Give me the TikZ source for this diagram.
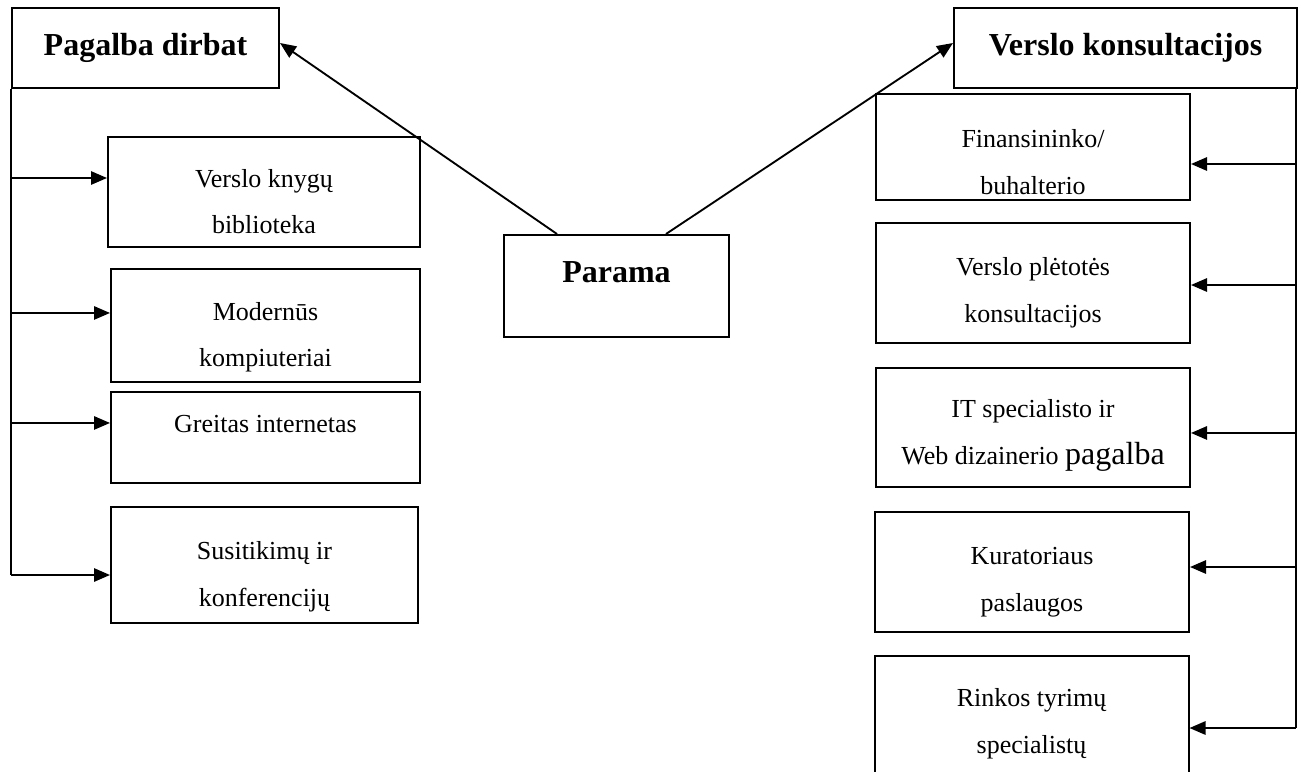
\documentclass[tikz,border=0pt]{standalone}
\usepackage{fontspec}
\setmainfont{Liberation Serif}
\usetikzlibrary{arrows.meta}
\newcommand\lift[1][28pt]{\rule{0pt}{#1}}

\begin{document}
\begin{tikzpicture}[x=0.75pt,y=-0.75pt,
    frame/.style={draw, line width=1.5pt, align=center, inner sep=0pt},
    box/.style={frame, font=\fontsize{19.5}{35}\selectfont},
    head/.style={frame, minimum height=60pt, font=\fontsize{24}{28}\selectfont\bfseries},
    lbox/.style={box, minimum width=231.75pt},
    rbox/.style={box, minimum width=235.5pt},
    link/.style={line width=1.4pt},
    arr/.style={link, -{Triangle[length=12pt,width=10pt]}}]

    \useasboundingbox (0,0) rectangle (1301,771);
    \clip (0,0) rectangle (1301,771);

    \node[head, minimum width=200.25pt] (pagalba) at (145.5,48) {Pagalba dirbat};
    \node[head, minimum width=257.25pt] (vk) at (1125.5,48) {Verslo konsultacijos};
    \node[head, minimum width=168.75pt, minimum height=76.5pt] (parama) at (616.5,286) {\raisebox{21pt}{Parama}};

    \node[lbox, minimum width=234pt, minimum height=82.5pt] (knyga) at (264,192) {\lift Verslo knygų\\biblioteka};
    \node[lbox, minimum height=84.75pt] (modern) at (265.5,325.5) {\lift[31pt]Modernūs\\kompiuteriai};
    \node[lbox, minimum height=68.25pt] (greit) at (265.5,437.5) {\lift Greitas internetas\\ \mbox{}};
    \node[lbox, minimum width=230.25pt, minimum height=87pt] (susit) at (264.5,565) {\lift[31pt]Susitikimų ir\\konferencijų};

    \node[rbox, minimum height=79.5pt] (finans) at (1033,147) {\lift[36pt]Finansininko/\\buhalterio};
    \node[rbox, minimum height=90pt] (pletot) at (1033,283) {\lift Verslo plėtotės\\konsultacijos};
    \node[rbox, minimum height=89.25pt] (itspec) at (1033,427.5) {\lift[25pt]IT specialisto ir\\Web dizainerio {\fontsize{24}{35}\selectfont pagalba}};
    \node[rbox, minimum height=90pt] (kurat) at (1032,572) {\lift Kuratoriaus\\paslaugos};
    \node[rbox, minimum height=91.5pt] (rinkos) at (1031.5,717) {\lift[24pt]Rinkos tyrimų\\specialistų};

    \draw[arr] ([xshift=40.5pt]parama.north west) -- ([yshift=3.75pt]pagalba.east);
    \draw[arr] ([xshift=-48pt]parama.north east) -- ([yshift=3.75pt]vk.west);

    \foreach \n/\s in {knyga/10.5, modern/9.4, greit/10.9, susit/-7.5} {
        \coordinate (\n-in) at ([yshift=\s pt]\n.west);
        \draw[arr] (pagalba.south west |- \n-in) -- (\n-in);
    }
    \draw[link] (pagalba.south west) -- (pagalba.south west |- susit-in);

    \coordinate (rtop) at ([xshift=-1.5pt]vk.south east);
    \foreach \n/\s in {finans/-12.75, pletot/-1.5, itspec/-4.1, kurat/3.75, rinkos/-8.25} {
        \coordinate (\n-in) at ([yshift=\s pt]\n.east);
        \draw[arr] (rtop |- \n-in) -- (\n-in);
    }
    \draw[link] (rtop) -- (rtop |- rinkos-in);
\end{tikzpicture}
\end{document}
